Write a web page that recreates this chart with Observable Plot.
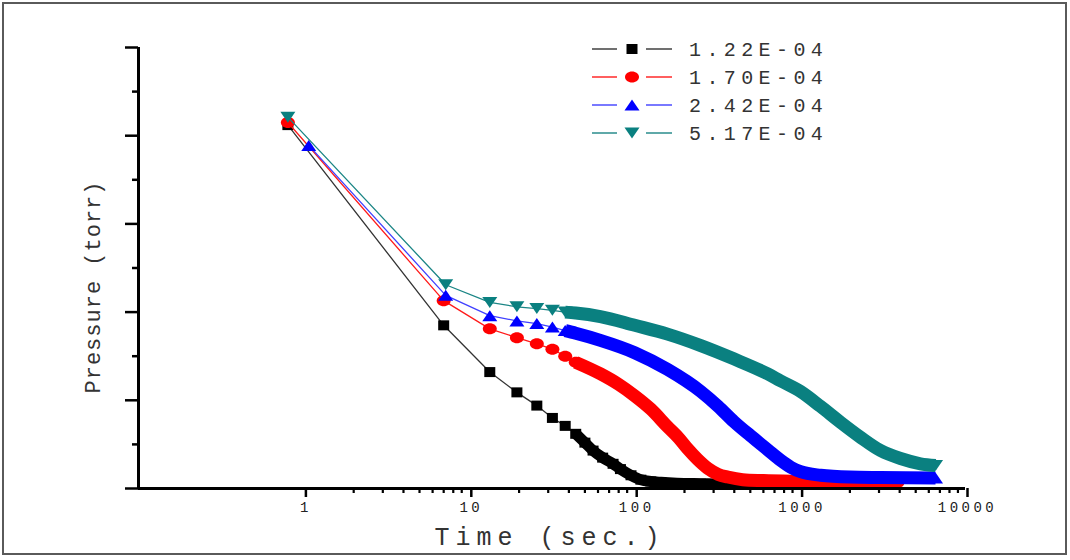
<!DOCTYPE html>
<html><head><meta charset="utf-8">
<script src="https://cdn.jsdelivr.net/npm/d3@7"></script>
<script src="https://cdn.jsdelivr.net/npm/@observablehq/plot@0.6"></script>
<style>
html,body{margin:0;padding:0;background:#fff;}
#wrap{position:relative;width:1070px;height:560px;overflow:hidden;background:#fff;}
#chart{position:absolute;left:0;top:0;}
#legend{position:absolute;left:0;top:0;}
#frame{position:absolute;left:2px;top:2px;width:1065px;height:553px;box-sizing:border-box;border:2px solid #5a5a5a;pointer-events:none;}
#chart g[aria-label="x-axis tick label"] text{letter-spacing:3.5px;}
#chart text[aria-label="xtitle"]{letter-spacing:6px;}
#chart text[aria-label="ytitle"]{letter-spacing:1px;}
</style></head><body>
<div id="wrap"><div id="chart"></div><svg id="legend" width="1070" height="560"></svg><div id="frame"></div></div>
<script>
// ---- data (y in arbitrary linear units, no labels shown) ----
const seriesLabels = ["1.22E-04", "1.70E-04", "2.42E-04", "5.17E-04"];

const time122 = [0.8, 7.0, 13.3, 19.4, 25.6, 31.8, 38, 44, 50, 56, 64, 74, 82, 95, 109, 125, 144, 180, 250, 400, 700];
const pres122 = [4.12, 1.85, 1.32, 1.09, 0.94, 0.80, 0.71, 0.62, 0.52, 0.43, 0.35, 0.28, 0.22, 0.15, 0.10, 0.08, 0.07, 0.06, 0.055, 0.05, 0.05];

const time170 = [0.8, 7.0, 13.3, 19.4, 25.6, 31.8, 38, 44, 62, 80, 100, 125, 158, 185, 209, 240, 276, 320, 365, 450, 600, 1000, 2000, 3880];
const pres170 = [4.15, 2.13, 1.81, 1.71, 1.64, 1.58, 1.50, 1.43, 1.30, 1.18, 1.05, 0.90, 0.70, 0.57, 0.45, 0.33, 0.23, 0.16, 0.13, 0.10, 0.09, 0.08, 0.07, 0.068];

const time242 = [1.07, 7.2, 13.3, 19.4, 25.6, 31.8, 38, 44, 62, 100, 158, 251, 320, 397, 500, 636, 762, 880, 1007, 1330, 2000, 3065, 6590];
const pres242 = [3.89, 2.19, 1.96, 1.90, 1.87, 1.83, 1.79, 1.76, 1.68, 1.54, 1.35, 1.10, 0.93, 0.76, 0.60, 0.44, 0.32, 0.24, 0.19, 0.15, 0.13, 0.125, 0.12];

const time517 = [0.8, 7.2, 13.3, 19.4, 25.6, 31.8, 38, 44, 62, 100, 158, 251, 397, 636, 762, 1007, 1330, 1757, 2321, 3065, 4048, 5346, 6590];
const pres517 = [4.21, 2.31, 2.11, 2.06, 2.04, 2.02, 2.00, 1.99, 1.95, 1.85, 1.75, 1.62, 1.47, 1.30, 1.22, 1.10, 0.93, 0.75, 0.58, 0.43, 0.34, 0.28, 0.26];

const xMajorTicks = [1, 10, 100, 1000, 10000];
const xMinorTicks = [2,3,4,5,6,7,8,9, 20,30,40,50,60,70,80,90, 200,300,400,500,600,700,800,900, 2000,3000,4000,5000,6000,7000,8000,9000];
const yMajorTicks = [0, 1, 2, 3, 4, 5];
const yMinorTicks = [0.5, 1.5, 2.5, 3.5, 4.5];
const xTitle = "Time (sec.)";
const yTitle = "Pressure (torr)";

// ---- styles ----
function rectSym(w, h) { return {draw(c) { c.moveTo(-w/2, -h/2); c.lineTo(w/2, -h/2); c.lineTo(w/2, h/2); c.lineTo(-w/2, h/2); c.closePath(); }}; }
function ellipseSym(rx, ry) { const k = 0.5523; return {draw(c) {
  c.moveTo(rx, 0);
  c.bezierCurveTo(rx, ry*k, rx*k, ry, 0, ry);
  c.bezierCurveTo(-rx*k, ry, -rx, ry*k, -rx, 0);
  c.bezierCurveTo(-rx, -ry*k, -rx*k, -ry, 0, -ry);
  c.bezierCurveTo(rx*k, -ry, rx, -ry*k, rx, 0);
  c.closePath(); }}; }
function triUp(w, h) { return {draw(c) { c.moveTo(0, -h/2); c.lineTo(w/2, h/2); c.lineTo(-w/2, h/2); c.closePath(); }}; }
function triDown(w, h) { return {draw(c) { c.moveTo(-w/2, -h/2); c.lineTo(w/2, -h/2); c.lineTo(0, h/2); c.closePath(); }}; }

const styles = [
  {fill: "#000000", line: "#333333", symbol: rectSym(11, 10), band: 11, bandFrom: 44, markersInBand: true},
  {fill: "#ff0000", line: "#ff1a1a", symbol: ellipseSym(7, 5.5), band: 13, bandFrom: 44, markersInBand: false},
  {fill: "#0000ff", line: "#4040ff", symbol: triUp(15, 11), band: 13, bandFrom: 38, markersInBand: false},
  {fill: "#0a8080", line: "#1a8585", symbol: triDown(15, 11), band: 13, bandFrom: 38, markersInBand: false}
];

const seriesData = [
  {label: seriesLabels[0], t: time122, p: pres122},
  {label: seriesLabels[1], t: time170, p: pres170},
  {label: seriesLabels[2], t: time242, p: pres242},
  {label: seriesLabels[3], t: time517, p: pres517}
];

const marks = [];
seriesData.forEach((s, i) => {
  const st = styles[i];
  const rows = s.t.map((t, j) => ({t, p: s.p[j], series: s.label, last: j === s.t.length - 1}));
  marks.push(Plot.line(rows, {x: "t", y: "p", stroke: st.line, strokeWidth: 1.3}));
  marks.push(Plot.line(rows.filter(d => d.t >= st.bandFrom), {x: "t", y: "p", stroke: st.fill, strokeWidth: st.band, curve: "monotone-x", strokeLinejoin: "round", strokeLinecap: "butt"}));
  const dotRows = st.markersInBand ? rows : rows.filter(d => d.t <= st.bandFrom || d.last);
  marks.push(Plot.dot(dotRows, {x: "t", y: "p", symbol: st.symbol, fill: st.fill, stroke: "none", r: 5}));
});

const plot = Plot.plot({
  width: 1070,
  height: 560,
  marginLeft: 138,
  marginRight: 105,
  marginTop: 47,
  marginBottom: 72,
  style: {fontFamily: "'Liberation Mono', 'DejaVu Sans Mono', monospace", fontSize: "14px", color: "#222", background: "transparent", overflow: "visible"},
  x: {type: "log", domain: [0.1, 10000], label: null},
  y: {type: "linear", domain: [0, 5], label: null},
  marks: [
    Plot.axisX({ticks: xMinorTicks, tickSize: 5, tickFormat: () => "", strokeWidth: 2.2, stroke: "#000", label: null}),
    Plot.axisX({ticks: xMajorTicks, tickSize: 9, tickPadding: 5, strokeWidth: 2.5, stroke: "#000", tickFormat: d => String(d), fontSize: 14, dx: 2, label: null}),
    Plot.axisY({ticks: yMinorTicks, tickSize: 6, tickFormat: () => "", strokeWidth: 2.5, stroke: "#000", label: null}),
    Plot.axisY({ticks: yMajorTicks, tickSize: 13, tickFormat: () => "", strokeWidth: 2.5, stroke: "#000", label: null}),
    ...marks,
    Plot.ruleY([0], {stroke: "#000", strokeWidth: 3}),
    Plot.ruleX([0.1], {stroke: "#000", strokeWidth: 3}),
    Plot.text([xTitle], {text: d => d, frameAnchor: "bottom", dy: 56, dx: -2, fontSize: 25, fill: "#333", ariaLabel: () => "xtitle"}),
    Plot.text([yTitle], {text: d => d, frameAnchor: "left", textAnchor: "middle", rotate: -90, dx: -46, dy: 19, fontSize: 22, fill: "#333", ariaLabel: () => "ytitle"})
  ]
});
document.getElementById("chart").appendChild(plot);

// ---- legend (overlay inside the plot area) ----
const lg = d3.select("#legend");
const rowY = [49, 77, 105, 133];
seriesData.forEach((s, i) => {
  const st = styles[i];
  const g = lg.append("g").attr("transform", `translate(0,${rowY[i]})`);
  g.append("line").attr("x1", 592).attr("x2", 617).attr("y1", 0).attr("y2", 0).attr("stroke", st.line).attr("stroke-width", 1.4);
  g.append("line").attr("x1", 646).attr("x2", 672).attr("y1", 0).attr("y2", 0).attr("stroke", st.line).attr("stroke-width", 1.4);
  g.append("path").attr("transform", "translate(632,0)").attr("d", d3.symbol(st.symbol)()).attr("fill", st.fill);
  g.append("text").attr("x", 689).attr("y", 7).text(s.label)
    .attr("font-family", "'Liberation Mono', 'DejaVu Sans Mono', monospace").attr("font-size", 20)
    .attr("letter-spacing", "5.4px").attr("fill", "#333");
});
</script>
</body></html>
